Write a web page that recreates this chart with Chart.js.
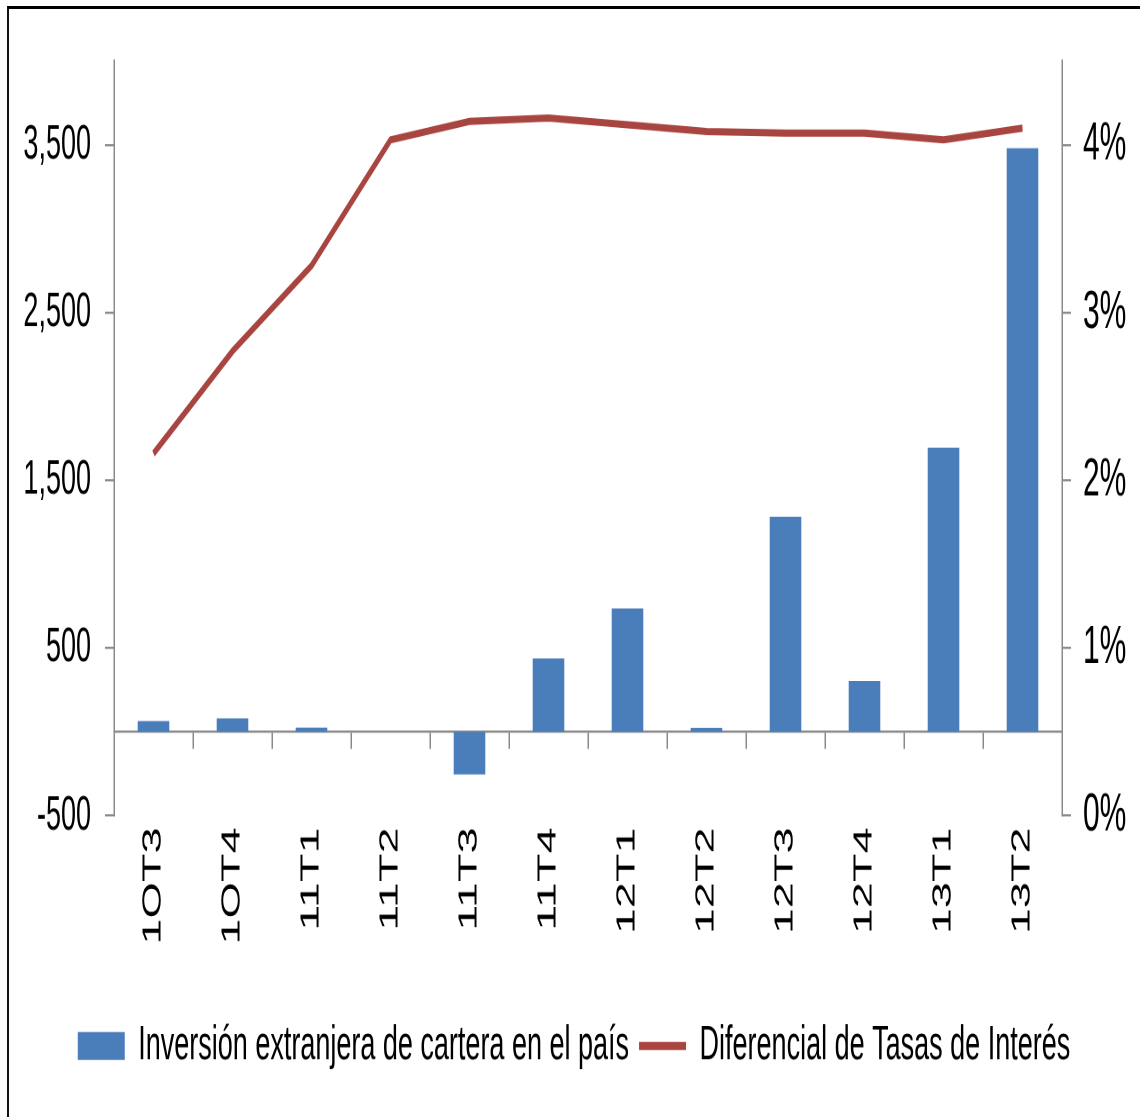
<!DOCTYPE html>
<html>
<head>
<meta charset="utf-8">
<script src="https://cdn.jsdelivr.net/npm/chart.js@4.4.0/dist/chart.umd.min.js"></script>
<style>
  html, body { margin: 0; padding: 0; background: #fff; }
  #frame {
    position: absolute; left: 7px; top: 6px; width: 1133px; height: 1111px;
    border-top: 3px solid #000; border-left: 2px solid #111; box-sizing: border-box;
  }
  /* the reference is stretched vertically, so the chart is drawn squat and scaled up */
  #wrap {
    position: absolute; left: 0; top: 0; width: 1140px; height: 620.6px;
    transform: scaleY(1.8); transform-origin: 0 0;
  }
</style>
</head>
<body>
<div id="frame"></div>
<div id="wrap"><canvas id="chart"></canvas></div>
<script>
const quarters = ["1OT3", "1OT4", "11T1", "11T2", "11T3", "11T4", "12T1", "12T2", "12T3", "12T4", "13T1", "13T2"];
const inversion = [64, 80, 26, 0, -254, 438, 736, 24, 1283, 304, 1695, 3481];
const diferencial = [2.16, 2.77, 3.28, 4.03, 4.14, 4.16, 4.12, 4.08, 4.07, 4.07, 4.03, 4.10];
const leftTicks = [-500, 500, 1500, 2500, 3500];
const rightTicks = [0, 1, 2, 3, 4];

const BLUE = "#4a7ebb";
const RED = "#a94541";
const AXIS = "#8a8a8a";
const NARROW = "'Liberation Sans Narrow', 'Liberation Sans', Arial, sans-serif";

const ctx = document.getElementById("chart").getContext("2d");

new Chart(ctx, {
  type: "bar",
  data: {
    labels: quarters,
    datasets: [
      {
        label: "Inversión extranjera de cartera en el país",
        data: inversion,
        backgroundColor: BLUE,
        borderWidth: 0,
        barPercentage: 0.4,
        categoryPercentage: 1,
        yAxisID: "y",
        order: 1,
      },
      {
        label: "Diferencial de Tasas de Interés",
        type: "line",
        data: diferencial,
        borderColor: RED,
        backgroundColor: RED,
        borderWidth: 4,
        pointRadius: 0,
        tension: 0,
        fill: false,
        yAxisID: "y1",
        order: 0,
      },
    ],
  },
  options: {
    responsive: true,
    maintainAspectRatio: false,
    animation: false,
    devicePixelRatio: 2,
    layout: { padding: { top: 33.9, left: 8, right: 0, bottom: 16.5 } },
    scales: {
      x: {
        position: "bottom",
        grid: { display: false, drawTicks: false },
        border: { display: false },
        ticks: {
          color: "#000",
          font: { family: "'Liberation Sans', Arial, sans-serif", size: 26 },
          minRotation: 90,
          maxRotation: 90,
          padding: 6.5,
          autoSkip: false,
        },
        afterFit: (scale) => { scale.height = 104.3; },
      },
      // zero line with tick marks between categories
      x2: {
        type: "category",
        position: { y: 0 },
        offset: true,
        grid: { offset: true, drawOnChartArea: false, drawTicks: true, tickLength: 9, color: AXIS, lineWidth: 1.5 },
        border: { display: true, color: AXIS, width: 1.2 },
        ticks: { display: false },
      },
      y: {
        position: "left",
        min: -500,
        max: 4000,
        afterBuildTicks: (scale) => { scale.ticks = leftTicks.map((v) => ({ value: v })); },
        afterFit: (scale) => { scale.width = 106; },
        grid: { drawOnChartArea: false, drawTicks: true, tickLength: 9, color: AXIS, lineWidth: 1.2 },
        border: { display: true, color: AXIS, width: 1.5 },
        ticks: {
          color: "#000",
          font: { family: NARROW, size: 27 },
          padding: 14,
          callback: (v) => v.toLocaleString("en-US"),
        },
      },
      y1: {
        position: "right",
        min: 0,
        max: 4.5,
        afterBuildTicks: (scale) => { scale.ticks = rightTicks.map((v) => ({ value: v })); },
        afterFit: (scale) => { scale.width = 78; },
        grid: { drawOnChartArea: false, drawTicks: true, tickLength: 9, color: AXIS, lineWidth: 1.2 },
        border: { display: true, color: AXIS, width: 1.5 },
        ticks: {
          color: "#000",
          font: { family: NARROW, size: 30 },
          padding: 12,
          callback: (v) => v + "%",
        },
      },
    },
    plugins: {
      tooltip: { enabled: false },
      legend: {
        position: "bottom",
        labels: {
          color: "#000",
          font: { family: NARROW, size: 27 },
          usePointStyle: true,
          pointStyleWidth: 47,
          boxHeight: 15.5,
          padding: 10,
          sort: (a, b) => a.datasetIndex - b.datasetIndex,
          generateLabels: (chart) => {
            const items = Chart.defaults.plugins.legend.labels.generateLabels(chart);
            items.forEach((item) => {
              if (item.datasetIndex === 0) {
                item.pointStyle = "rect";
                item.lineWidth = 0;
                item.fillStyle = BLUE;
              } else {
                item.pointStyle = "line";
                item.lineWidth = 4.5;
                item.strokeStyle = RED;
              }
            });
            return items;
          },
        },
      },
    },
  },
});
</script>
</body>
</html>
